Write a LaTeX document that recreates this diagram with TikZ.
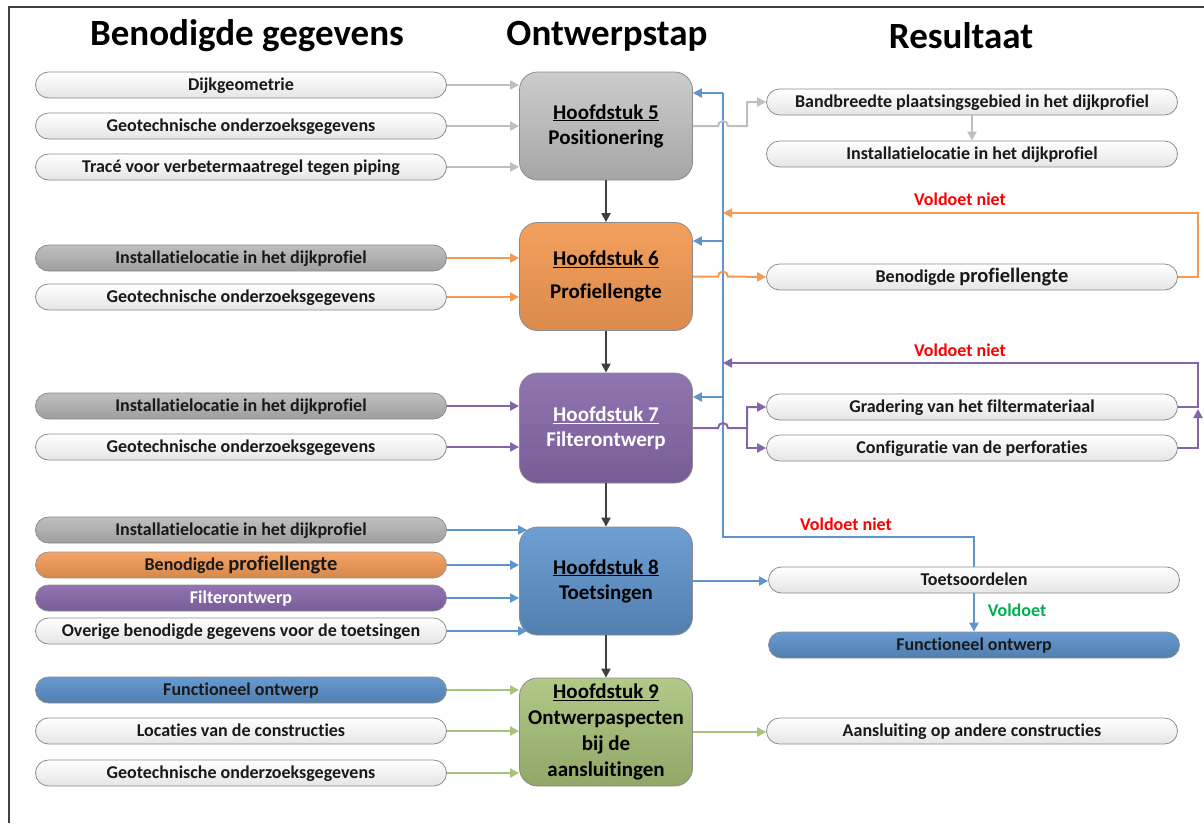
\documentclass[tikz,border=0pt]{standalone}
\usepackage{fontspec}
\setmainfont{Carlito}[Ligatures=NoCommon, Contextuals=NoAlternate, RawFeature={-liga;-calt;-dlig}]
\usetikzlibrary{arrows.meta}

\definecolor{framec}{HTML}{404040}
\definecolor{flowc}{HTML}{404040}
\definecolor{grayl}{HTML}{BFBFBF}
\definecolor{orangel}{HTML}{F39A55}
\definecolor{purplel}{HTML}{8466A8}
\definecolor{bluel}{HTML}{5F95CE}
\definecolor{greenl}{HTML}{A9C47A}
\definecolor{redt}{HTML}{FF0000}
\definecolor{greent}{HTML}{00B050}

\newcommand\bxfont{\fontsize{18}{19}\selectfont\bfseries}
\newcommand\bigpf{\fontsize{20.5}{21}\selectfont}
\newcommand\chfont{\fontsize{21}{25}\selectfont\bfseries}
\newcommand\ttlfont{\fontsize{37}{40}\selectfont\bfseries}

\tikzset{
  inbox/.style={rounded corners=13pt, minimum width=411pt, minimum height=26pt,
    inner sep=0pt, text height=14pt, text depth=2.4pt, draw=black!45, line width=0.8pt,
    top color=white, bottom color=black!10, font=\bxfont, text=black!90},
  graybox/.style={inbox, top color=black!25, bottom color=black!38},
  orangebox/.style={inbox, top color=orangel!90!white, bottom color=orangel!88!black, draw=black!40},
  purplebox/.style={inbox, top color=purplel!90!white, bottom color=purplel!90!black, text=white},
  bluebox/.style={inbox, top color=bluel!95!white, bottom color=bluel!85!black},
  chapter/.style={rounded corners=18pt, minimum width=173pt, minimum height=108pt,
    inner sep=0pt, align=center, font=\chfont, line width=0.8pt, draw=black!45},
  ch5/.style={chapter, top color=black!20, bottom color=black!35},
  ch6/.style={chapter, top color=orangel!95!white, bottom color=orangel!90!black},
  ch7/.style={chapter, top color=purplel!90!white, bottom color=purplel!90!black, text=white},
  ch8/.style={chapter, top color=bluel!90!white, bottom color=bluel!85!black},
  ch9/.style={chapter, top color=greenl!90!white, bottom color=greenl!85!black},
  tip/.style={-{Triangle[length=9pt,width=9pt]}},
  conn/.style={line width=2pt, tip},
  gconn/.style={conn, draw=grayl},
  oconn/.style={conn, draw=orangel},
  pconn/.style={conn, draw=purplel},
  bconn/.style={conn, draw=bluel},
  vconn/.style={conn, draw=greenl},
  flow/.style={conn, draw=flowc},
  plain/.style={line width=2pt},
  title/.style={font=\ttlfont, text=black},
  nok/.style={font=\bxfont, text=redt},
  ok/.style={font=\bxfont, text=greent}
}

\begin{document}
\begin{tikzpicture}[x=1pt,y=1pt]
\useasboundingbox (0,0) rectangle (1204,-823);
\fill[white] (0,0) rectangle (1204,-823);
\draw[framec, line width=2pt] (9,-823) -- (9,-7) -- (1204,-7);

% column headings
\node[title] (t1) at (247,-36) {Benodigde gegevens};
\node[title] (t2) at (607,-36) {Ontwerpstap};
\node[title] (t3) at (961,-36) {Resultaat};

% design steps
\node[ch5] (h5) at (606,-126) {\underline{Hoofdstuk 5}\\Positionering};
\node[ch6] (h6) at (606,-276.5) {\underline{Hoofdstuk 6}\\[8pt]Profiellengte};
\node[ch7, minimum height=110pt] (h7) at (606,-428) {\underline{Hoofdstuk 7}\\Filterontwerp};
\node[ch8] (h8) at (606,-581) {\underline{Hoofdstuk 8}\\Toetsingen};
\node[ch9, font=\fontsize{21}{26}\selectfont\bfseries] (h9) at (606,-732) {\underline{Hoofdstuk 9}\\Ontwerpaspecten\\bij de\\aansluitingen};

% required input
\node[inbox] (l1) at (241,-85) {Dijkgeometrie};
\node[inbox] (l2) at (241,-126) {Geotechnische onderzoeksgegevens};
\node[inbox] (l3) at (241,-167) {Tracé voor verbetermaatregel tegen piping};
\node[graybox] (l4) at (241,-258) {Installatielocatie in het dijkprofiel};
\node[inbox] (l5) at (241,-297) {Geotechnische onderzoeksgegevens};
\node[graybox] (l6) at (241,-406) {Installatielocatie in het dijkprofiel};
\node[inbox] (l7) at (241,-447) {Geotechnische onderzoeksgegevens};
\node[graybox] (l8) at (241,-530) {Installatielocatie in het dijkprofiel};
\node[orangebox] (l9) at (241,-565) {Benodigde {\bigpf profiellengte}};
\node[purplebox] (l10) at (241,-598) {Filterontwerp};
\node[inbox] (l11) at (241,-631) {Overige benodigde gegevens voor de toetsingen};
\node[bluebox] (l12) at (241,-690) {Functioneel ontwerp};
\node[inbox] (l13) at (241,-731) {Locaties van de constructies};
\node[inbox] (l14) at (241,-773) {Geotechnische onderzoeksgegevens};

% results
\node[inbox] (r1) at (972,-102) {Bandbreedte plaatsingsgebied in het dijkprofiel};
\node[inbox] (r2) at (972,-154) {Installatielocatie in het dijkprofiel};
\node[inbox] (r3) at (972,-277) {Benodigde {\bigpf profiellengte}};
\node[inbox] (r4) at (972,-407) {Gradering van het filtermateriaal};
\node[inbox] (r5) at (972,-448) {Configuratie van de perforaties};
\node[inbox] (r6) at (974,-580) {Toetsoordelen};
\node[bluebox] (r7) at (974,-645) {Functioneel ontwerp};
\node[inbox] (r8) at (972,-731) {Aansluiting op andere constructies};

% helper positions
\coordinate (jl) at (718,0);
\coordinate (sx) at (747,0);
\coordinate (rx) at (1198,0);
\coordinate (busT) at (723,-93);
\coordinate (busB) at (723,-537);
\coordinate (ofb) at (723,-213);
\coordinate (pfb) at (723,-363);

% feedback bus from the assessment back to the design steps
\draw[plain, bluel] (r6.north) |- (busB) -- (busT);
\draw[bconn] (busT) -- (busT -| h5.east);
\draw[bconn] (723,-241) -- (h6.east |- 0,-241);
\draw[bconn] (723,-397) -- (h7.east |- 0,-397);
\node[nok] (n3) at (846,-524) {Voldoet niet};

% step sequence
\draw[flow] (h5.south) -- (h6.north);
\draw[flow] (h6.south) -- (h7.north);
\draw[flow] (h7.south) -- (h8.north);
\draw[flow] (h8.south) -- (h9.north);

% inputs into the steps
\draw[gconn] (l1.east) -- (l1.east -| h5.west);
\draw[gconn] (l2.east) -- (l2.east -| h5.west);
\draw[gconn] (l3.east) -- (l3.east -| h5.west);
\draw[oconn] (l4.east) -- (l4.east -| h6.west);
\draw[oconn] (l5.east) -- (l5.east -| h6.west);
\draw[pconn] (l6.east) -- (l6.east -| h7.west);
\draw[pconn] (l7.east) -- (l7.east -| h7.west);
\draw[bconn] (l8.east) -- ([xshift=8pt]l8.east -| h8.west);
\draw[bconn] (l9.east) -- (l9.east -| h8.west);
\draw[bconn] (l10.east) -- (l10.east -| h8.west);
\draw[bconn] (l11.east) -- ([xshift=8pt]l11.east -| h8.west);
\draw[vconn] (l12.east) -- (l12.east -| h9.west);
\draw[vconn] (l13.east) -- (l13.east -| h9.west);
\draw[vconn] (l14.east) -- (l14.east -| h9.west);

% outputs of the steps
\draw[gconn] (h5.east) -- (h5.east -| jl) arc[start angle=180,end angle=0,radius=5]
  -- (h5.east -| sx) |- (r1.west);
\draw[gconn] (r1.south) -- (r2.north);
\draw[oconn] (h6.east) -- (h6.east -| jl) arc[start angle=180,end angle=0,radius=5]
  -- (r3.west);
\draw[pconn] (h7.east) -- (h7.east -| jl) arc[start angle=180,end angle=0,radius=5]
  -- (h7.east -| sx) coordinate (split) |- (r4.west);
\draw[pconn] (split) |- (r5.west);
\draw[bconn] (h8.east) -- (h8.east -| r6.west);
\draw[bconn] (r6.south) -- (r7.north);
\draw[vconn] (h9.east) -- (h9.east -| r8.west);

% rejection loops
\draw[oconn] (r3.east) -- (r3.east -| rx) -- (rx |- ofb) -- (ofb);
\node[nok] (n1) at (960,-199) {Voldoet niet};
\draw[pconn] (r4.east) -- (r4.east -| rx) -- (rx |- pfb) -- (pfb);
\draw[pconn] (r5.east) -- (r5.east -| rx) -- ([yshift=-2pt]rx |- r4.east);
\node[nok] (n2) at (960,-350) {Voldoet niet};
\node[ok] (y1) at (1017,-610) {Voldoet};
\end{tikzpicture}
\end{document}
